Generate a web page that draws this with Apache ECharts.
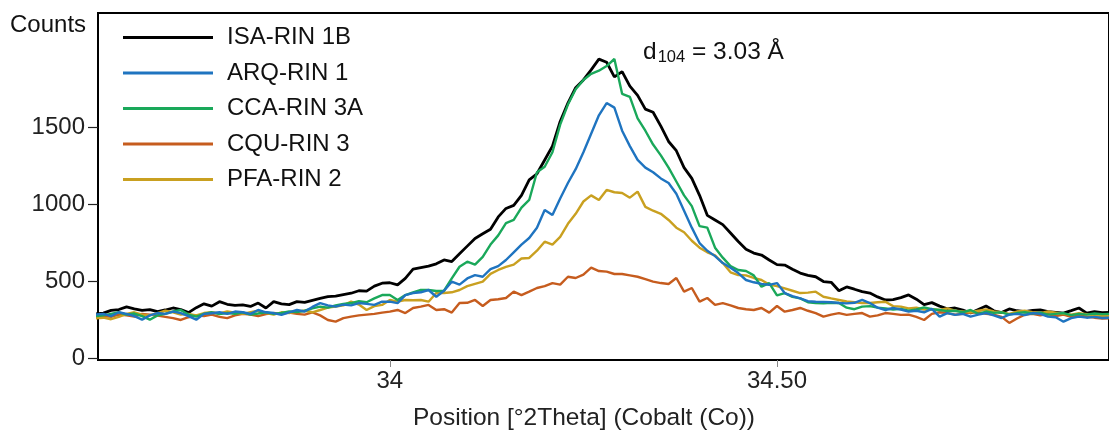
<!DOCTYPE html>
<html>
<head>
<meta charset="utf-8">
<script src="https://cdn.jsdelivr.net/npm/echarts@6/dist/echarts.min.js"></script>
<style>
html,body{margin:0;padding:0;background:#fff;}
#chart{width:1109px;height:432px;}
</style>
</head>
<body>
<div id="chart"></div>
<script>
// 2Theta positions (deg)
const positions = [
33.62,
33.63,33.64,33.65,33.66,33.67,33.68,33.69,33.70,33.71,33.72,
33.73,33.74,33.75,33.76,33.77,33.78,33.79,33.80,33.81,33.82,
33.83,33.84,33.85,33.86,33.87,33.88,33.89,33.90,33.91,33.92,
33.93,33.94,33.95,33.96,33.97,33.98,33.99,34.00,34.01,34.02,
34.03,34.04,34.05,34.06,34.07,34.08,34.09,34.10,34.11,34.12,
34.13,34.14,34.15,34.16,34.17,34.18,34.19,34.20,34.21,34.22,
34.23,34.24,34.25,34.26,34.27,34.28,34.29,34.30,34.31,34.32,
34.33,34.34,34.35,34.36,34.37,34.38,34.39,34.40,34.41,34.42,
34.43,34.44,34.45,34.46,34.47,34.48,34.49,34.50,34.51,34.52,
34.53,34.54,34.55,34.56,34.57,34.58,34.59,34.60,34.61,34.62,
34.63,34.64,34.65,34.66,34.67,34.68,34.69,34.70,34.71,34.72,
34.73,34.74,34.75,34.76,34.77,34.78,34.79,34.80,34.81,34.82,
34.83,34.84,34.85,34.86,34.87,34.88,34.89,34.90,34.91,34.92,
34.93
];

const isaRin1B = [
290,
295,312,318,335,322,312,318,304,315,328,
318,298,330,355,340,369,352,345,348,338,
360,328,369,355,350,369,365,378,390,402,
405,415,424,440,438,470,489,492,478,520,
580,590,600,615,640,630,680,730,780,810,
840,920,975,995,1060,1160,1200,1290,1380,1540,
1660,1760,1810,1875,1945,1925,1830,1864,1770,1710,
1620,1600,1510,1410,1350,1240,1170,1060,930,900,
870,815,760,710,685,672,640,610,607,580,
555,540,531,500,495,440,465,450,434,425,
400,380,382,395,413,385,350,363,340,322,
328,315,295,318,341,310,298,322,310,304,
312,315,305,300,295,311,328,295,305,298,
300
];

const arqRin1 = [
285,
290,275,300,290,275,252,280,295,290,304,
295,275,252,290,294,300,290,305,300,290,
315,300,295,283,300,315,305,335,360,345,
337,350,345,360,355,348,369,369,360,412,
425,430,445,401,440,499,480,520,542,531,
580,600,640,690,740,783,850,965,932,1040,
1140,1230,1340,1460,1580,1660,1630,1480,1380,1290,
1240,1210,1170,1140,1070,960,850,750,700,665,
620,590,555,510,495,485,478,490,425,405,
390,372,369,368,365,360,358,362,380,360,
330,315,328,318,304,310,300,322,272,295,
283,290,272,285,295,280,263,285,290,282,
295,290,272,268,239,262,272,265,270,263,
265
];

const ccaRin3A = [
275,
280,290,300,285,292,275,252,280,290,305,
315,285,272,290,300,288,295,290,300,285,
292,300,290,296,305,302,310,325,337,330,
345,355,360,372,365,390,412,412,380,412,
430,445,445,438,440,520,596,629,610,660,
740,800,880,900,980,1030,1210,1246,1340,1520,
1650,1750,1810,1850,1870,1900,1946,1720,1700,1560,
1480,1390,1320,1240,1150,1060,990,860,850,720,
655,600,575,568,540,466,490,410,425,400,
390,365,360,358,362,360,330,320,337,340,
330,325,318,322,310,318,332,320,315,308,
310,300,315,290,305,296,300,285,295,300,
292,298,285,290,295,282,290,285,292,288,
290
];

const cquRin3 = [
270,
275,270,285,280,272,290,285,278,270,262,
250,268,280,275,285,270,262,280,290,285,
275,288,295,290,298,290,285,300,280,250,
239,262,272,280,285,290,298,304,315,295,
328,337,348,315,320,298,360,362,380,341,
380,385,393,434,412,434,458,470,490,480,
531,523,545,590,568,564,549,549,540,531,
515,499,490,484,523,434,458,369,393,348,
360,345,328,320,315,328,298,341,304,315,
328,310,295,272,285,295,283,290,295,272,
280,295,290,283,285,270,250,290,300,295,
285,290,298,300,290,285,270,231,260,285,
290,280,288,275,285,270,280,272,265,260,
262
];

const pfaRin2 = [
260,
265,255,270,290,300,285,280,295,310,300,
285,290,280,295,300,292,305,298,290,300,
310,295,285,300,295,305,310,300,315,330,
338,345,369,350,315,340,348,380,369,380,
378,380,369,425,425,430,445,470,485,499,
550,575,595,610,650,653,700,759,740,790,
875,940,1020,1060,1030,1095,1080,1075,1045,1084,
985,960,940,900,850,820,765,720,690,670,
620,560,542,540,523,510,480,470,455,440,
425,428,434,401,390,380,370,365,360,360,
365,369,340,337,325,330,318,320,315,325,
310,305,300,310,318,305,300,290,305,310,
300,295,305,298,290,285,295,288,280,275,
275
];

const seriesNames = ['ISA-RIN 1B','ARQ-RIN 1','CCA-RIN 3A','CQU-RIN 3','PFA-RIN 2'];
const seriesValues = [isaRin1B, arqRin1, ccaRin3A, cquRin3, pfaRin2];
const seriesColors = ['#000000','#1f74c0','#1aa85a','#c65c1e','#c9a020'];
const seriesZ = [2,5,4,3,3];

const xTickValues = [34, 34.5];
const xTickLabels = ['34', '34.50'];
const yTickValues = [0, 500, 1000, 1500];
const yTickLabels = ['0', '500', '1000', '1500'];

const FONT = '"Liberation Sans", Arial, sans-serif';

const chart = echarts.init(document.getElementById('chart'), null, {renderer: 'canvas'});

const series = seriesNames.map((name, i) => ({
  name: name,
  type: 'line',
  data: positions.map((x, j) => [x, seriesValues[i][j]]),
  showSymbol: false,
  symbol: 'none',
  z: seriesZ[i],
  lineStyle: {color: seriesColors[i], width: i === 0 ? 2.8 : 2.4},
  itemStyle: {color: seriesColors[i]},
  clip: true,
  animation: false
}));

chart.setOption({
  animation: false,
  backgroundColor: '#ffffff',
  grid: {left: 98, right: -3, top: 13, bottom: 72, show: true, borderColor: '#000', borderWidth: 2, backgroundColor: 'transparent'},
  xAxis: {
    type: 'value',
    min: 33.6231,
    max: 34.9288,
    axisLine: {show: true, onZero: false, lineStyle: {color: '#000', width: 2}},
    axisTick: {show: true, customValues: xTickValues, length: 7, lineStyle: {color: '#888', width: 1}},
    axisLabel: {show: true, customValues: xTickValues, margin: 9, fontSize: 24, color: '#222', fontFamily: FONT,
      formatter: v => { const k = xTickValues.indexOf(v); return k >= 0 ? xTickLabels[k] : ''; }},
    splitLine: {show: false}
  },
  yAxis: {
    type: 'value',
    min: -10,
    max: 2245,
    axisLine: {show: true, onZero: false, lineStyle: {color: '#000', width: 2}},
    axisTick: {show: true, customValues: yTickValues, length: 10, lineStyle: {color: '#222', width: 1.2}},
    axisLabel: {show: true, customValues: yTickValues, margin: 13, fontSize: 24, color: '#222', fontFamily: FONT,
      formatter: v => { const k = yTickValues.indexOf(v); return k >= 0 ? yTickLabels[k] : ''; }},
    splitLine: {show: false}
  },
  legend: {
    orient: 'vertical',
    left: 123,
    top: 25.5,
    padding: 0,
    icon: 'rect',
    itemWidth: 90,
    itemHeight: 3,
    itemGap: 11.5,
    data: seriesNames,
    textStyle: {fontSize: 24, color: '#111', fontFamily: FONT, lineHeight: 24, padding: [0, 0, 0, 9]}
  },
  graphic: [
    {type: 'text', x: 10, y: 25, style: {text: 'Counts', fill: '#111', font: '24px ' + FONT, verticalAlign: 'middle', align: 'left'}},
    {type: 'text', x: 584, y: 418, style: {text: 'Position [°2Theta] (Cobalt (Co))', fill: '#222', font: '24.5px ' + FONT, verticalAlign: 'middle', align: 'center'}},
    {type: 'text', x: 643, y: 37, style: {
      text: '{a|d}{s|104}{a| = 3.03 Å}',
      rich: {
        a: {fontSize: 24.5, fontFamily: FONT, fill: '#111', lineHeight: 30, verticalAlign: 'middle'},
        s: {fontSize: 16.5, fontFamily: FONT, fill: '#111', lineHeight: 30, verticalAlign: 'middle', padding: [11, 0, 0, 1]}
      }
    }}
  ],
  series: series
});
</script>
</body>
</html>
